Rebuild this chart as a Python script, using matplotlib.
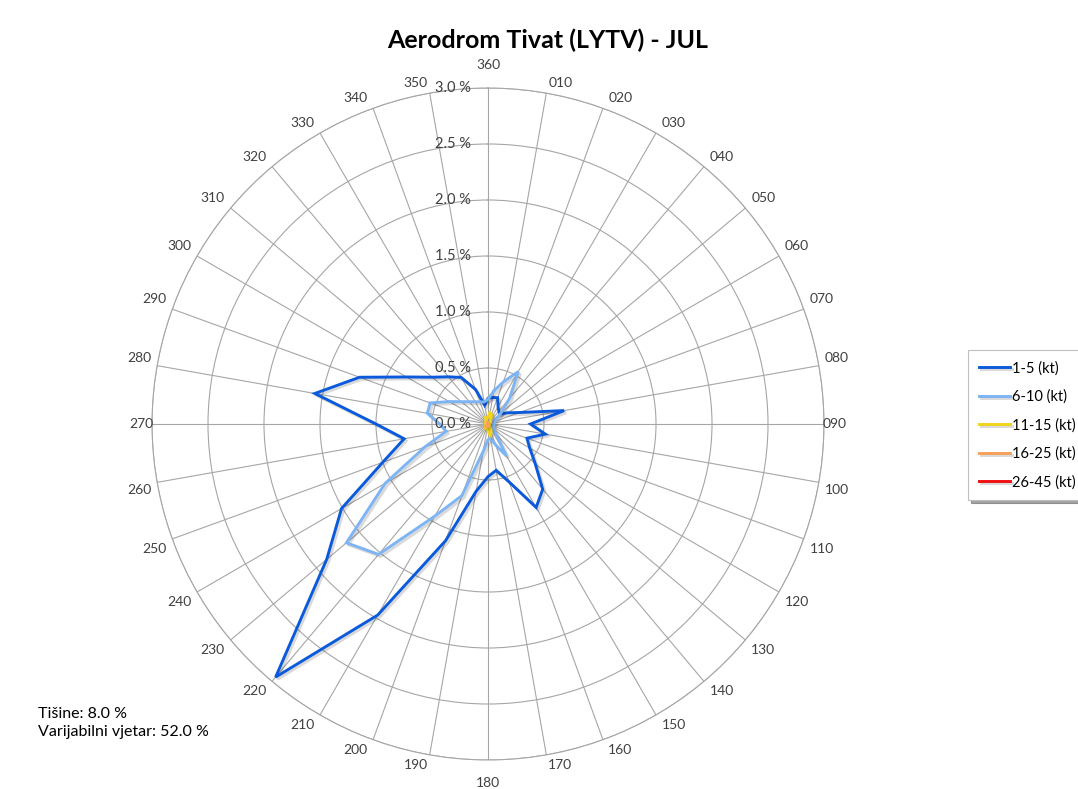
import numpy as np
import matplotlib
matplotlib.use("Agg")
import matplotlib.pyplot as plt
import matplotlib.patheffects as pe

plt.rcParams['font.family'] = ['Lato', 'DejaVu Sans']

# wind rose data, frequency in % per direction (010 ... 360)
directions = np.arange(10, 361, 10)
dir_labels = [f"{d:03d}" for d in directions]

speed_classes = ["1-5 (kt)", "6-10 (kt)", "11-15 (kt)", "16-25 (kt)", "26-45 (kt)"]
colors = ["#0B5ADB", "#7DB4F3", "#F2D41A", "#F7A05A", "#F01010"]

freq_1_5 = [0.24, 0.25, 0.18, 0.15, 0.14, 0.20, 0.30, 0.69, 0.38, 0.52,
            0.37, 0.43, 0.55, 0.76, 0.86, 0.55, 0.42, 0.47, 0.61, 1.11,
            1.97, 2.95, 1.88, 1.51, 1.00, 0.76, 1.00, 1.57, 1.22, 0.84,
            0.65, 0.55, 0.48, 0.33, 0.17, 0.23]
freq_6_10 = [0.30, 0.40, 0.54, 0.30, 0.15, 0.08, 0.06, 0.06, 0.05, 0.05,
             0.05, 0.05, 0.06, 0.10, 0.33, 0.20, 0.13, 0.14, 0.25, 0.68,
             0.95, 1.52, 1.65, 1.06, 0.60, 0.38, 0.43, 0.55, 0.55, 0.40,
             0.31, 0.26, 0.23, 0.21, 0.20, 0.22]
freq_11_15 = [0.10, 0.09, 0.05, 0.03, 0.02, 0.02, 0.01, 0.02, 0.01, 0.01,
              0.01, 0.01, 0.01, 0.02, 0.05, 0.08, 0.10, 0.06, 0.04, 0.03,
              0.03, 0.04, 0.03, 0.02, 0.02, 0.02, 0.02, 0.02, 0.02, 0.01,
              0.02, 0.02, 0.04, 0.07, 0.05, 0.06]
freq_16_25 = [0.01, 0.01, 0.0, 0.0, 0.0, 0.0, 0.0, 0.0, 0.0, 0.0,
              0.0, 0.0, 0.0, 0.0, 0.0, 0.01, 0.01, 0.01, 0.02, 0.03,
              0.03, 0.03, 0.02, 0.01, 0.0, 0.0, 0.0, 0.0, 0.0, 0.0,
              0.0, 0.0, 0.0, 0.0, 0.01, 0.01]
freq_26_45 = [0.0] * 36

series = [freq_1_5, freq_6_10, freq_11_15, freq_16_25, freq_26_45]

r_ticks = np.arange(0, 3.01, 0.5)
r_labels = [f"{r:.1f} %" for r in r_ticks]

title = "Aerodrom Tivat (LYTV) - JUL"
note = "Tišine: 8.0 %\nVarijabilni vjetar: 52.0 %"

#%%
fig = plt.figure(figsize=(10.78, 7.89), dpi=100)
ax = fig.add_axes([152 / 1078, 29 / 789, 672 / 1078, 672 / 789], projection="polar")
ax.set_theta_zero_location("N")
ax.set_theta_direction(-1)

theta = np.deg2rad(np.append(directions, directions[0]))
shadow = [pe.SimpleLineShadow(offset=(1.5, -1.5), shadow_color="k", alpha=0.15), pe.Normal()]
for vals, col, lab in zip(series, colors, speed_classes):
    ax.plot(theta, np.append(vals, vals[0]), color=col, lw=2.1, label=lab,
            path_effects=shadow, solid_joinstyle="miter")

ax.set_ylim(0, 3.0)
ax.set_yticks(r_ticks)
ax.set_yticklabels([])
ax.set_thetagrids(directions, [""] * len(directions))
ax.grid(color="#A6A6A6", lw=0.8)
ax.spines["polar"].set_color("#A6A6A6")
ax.spines["polar"].set_linewidth(0.8)

# direction labels sit just off the outer ring, Excel style
for d, lab in zip(directions, dir_labels):
    t = np.deg2rad(d)
    off_x = 18 * np.tanh(6 * np.sin(t))
    off_y = 10 * np.tanh(6 * np.cos(t))
    if d in (90, 270):
        off_x = 11 * np.sign(np.sin(t))
    if d in (180, 360):
        off_y = 23 * np.sign(np.cos(t))
    ax.annotate(lab, xy=(t, 3.0), xytext=(off_x, off_y),
                textcoords="offset pixels", ha="center", va="center",
                fontsize=10, color="#404040", annotation_clip=False)

for r, lab in zip(r_ticks, r_labels):
    ax.annotate(lab, xy=(0, r), xytext=(-12, 0), textcoords="offset points",
                ha="right", va="center", fontsize=10.5, color="#404040")

fig.text(0.508, 1 - 40 / 789, title, ha="center", va="center",
         fontsize=18, fontweight="bold")
fig.text(38 / 1078, 1 - 723 / 789, note, ha="left", va="center",
         fontsize=11.5, linespacing=1.45)

leg = fig.legend(loc="upper left", bbox_to_anchor=(968 / 1078, 1 - 350 / 789),
                 fontsize=10.5, frameon=True, fancybox=False, shadow=True,
                 handlelength=2.1, handletextpad=0.2, labelspacing=0.97,
                 borderpad=0.75, borderaxespad=0)
leg.get_frame().set_edgecolor("#BFBFBF")
leg.get_frame().set_linewidth(0.8)

fig.savefig("out.png", dpi=100)
